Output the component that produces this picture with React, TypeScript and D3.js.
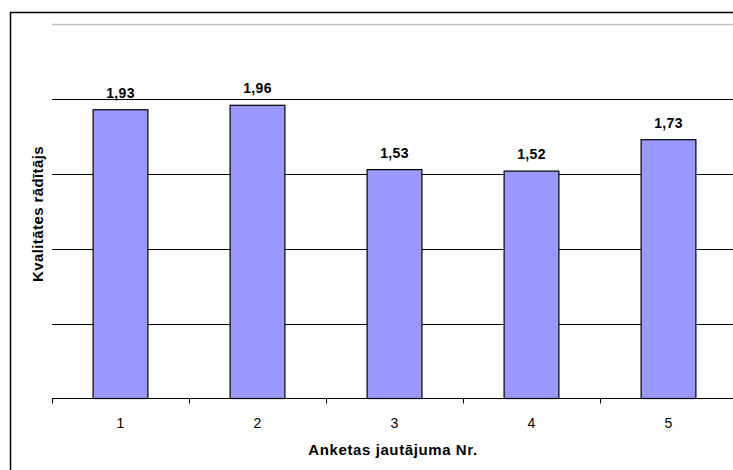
import React from 'react'
import * as d3 from 'd3'

const categories = ['1', '2', '3', '4', '5']
const values = [1.93, 1.96, 1.53, 1.52, 1.73]
const valueLabels = ['1,93', '1,96', '1,53', '1,52', '1,73']
const gridValues = [0.5, 1, 1.5, 2]

const width = 733
const height = 470
const margin = { top: 24.5, right: -4, bottom: 71.5, left: 52 }

export default function App() {
  const x = d3.scaleBand()
    .domain(categories)
    .range([margin.left, width - margin.right])
    .paddingInner(0.6)
    .paddingOuter(0.3)

  const y = d3.scaleLinear()
    .domain([0, 2.5])
    .range([height - margin.bottom, margin.top])

  const step = x.step()
  const baseY = y(0)
  const font = 'Arial, "Liberation Sans", sans-serif'

  return (
    <svg width={width} height={height}
      style={{ position: 'absolute', left: 0, top: 0, background: '#fff' }}
      fontFamily={font}>
      {/* chart border, cut off at right and bottom */}
      <rect x={10.5} y={12.5} width={760} height={500} fill="#fff" stroke="#000" strokeWidth={1.5} />

      {/* top gridline is light gray */}
      <line x1={margin.left} x2={width} y1={y(2.5)} y2={y(2.5)} stroke="#c0c0c0" strokeWidth={1.5} />
      {gridValues.map(v => (
        <line key={v} x1={margin.left} x2={width} y1={Math.round(y(v)) + 0.5} y2={Math.round(y(v)) + 0.5}
          stroke="#000" strokeWidth={1.2} />
      ))}

      {categories.map((c, i) => {
        const top = y(values[i])
        return (
          <g key={c}>
            <rect x={x(c)} y={top} width={x.bandwidth()} height={baseY - top}
              fill="#9999ff" stroke="#000" strokeWidth={1.2} />
            <text x={x(c)! + x.bandwidth() / 2} y={top - 12} textAnchor="middle"
              fontSize={14} letterSpacing={0.3} fontWeight="bold">{valueLabels[i]}</text>
          </g>
        )
      })}

      {/* x axis */}
      <line x1={margin.left} x2={width} y1={baseY} y2={baseY} stroke="#000" strokeWidth={1.2} />
      {d3.range(categories.length + 1).map(k => {
        const tx = Math.round(margin.left + k * step) + 0.5
        return <line key={k} x1={tx} x2={tx} y1={baseY} y2={baseY + 5} stroke="#000" strokeWidth={1} />
      })}
      {categories.map(c => (
        <text key={c} x={x(c)! + x.bandwidth() / 2} y={baseY + 29} textAnchor="middle" fontSize={14}>{c}</text>
      ))}

      <text x={393} y={455} textAnchor="middle" fontSize={15} letterSpacing={0.6} fontWeight="bold">Anketas jautājuma Nr.</text>
      <text transform={`translate(43,214) rotate(-90)`} textAnchor="middle"
        fontSize={15} letterSpacing={0.4} fontWeight="bold">Kvalitātes rādītājs</text>
    </svg>
  )
}
